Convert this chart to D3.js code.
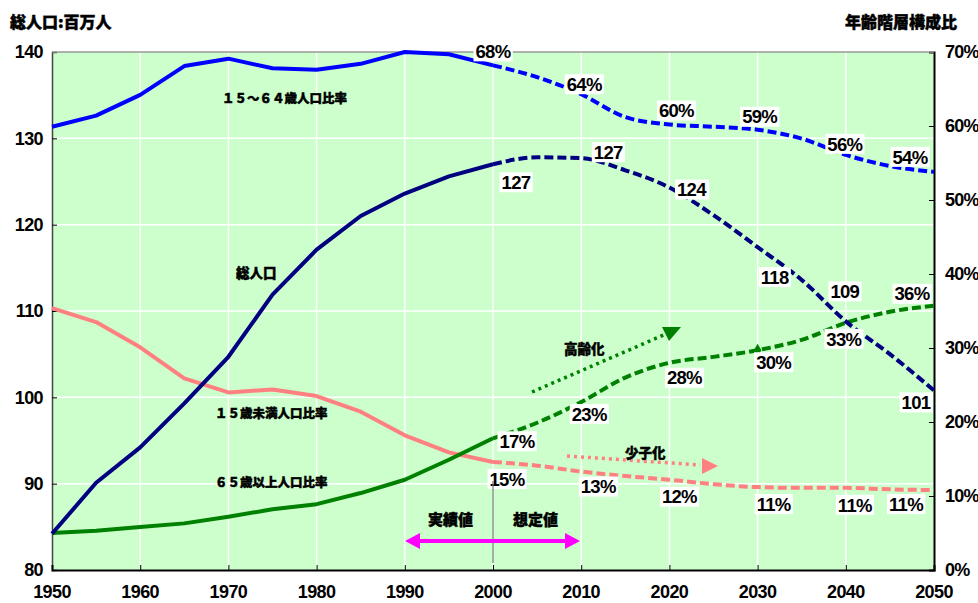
<!DOCTYPE html>
<html><head><meta charset="utf-8">
<script src="https://cdn.jsdelivr.net/npm/d3@7"></script>
<style>
body{margin:0;background:#fff;}
svg{display:block;}
.num{font-family:"Liberation Sans",Arial,sans-serif;font-weight:bold;}
.jp{font-family:"Noto Sans CJK JP",sans-serif;font-weight:900;stroke:#000;stroke-width:0.45px;}
</style></head>
<body><svg id="c" width="978" height="603"></svg>
<script>
// ---------------- DATA ----------------
const years = [1950,1955,1960,1965,1970,1975,1980,1985,1990,1995,2000,2005,2010,2015,2020,2025,2030,2035,2040,2045,2050];
const totalPop = [84.2,90.1,94.2,99.3,104.7,111.9,117.1,121.0,123.6,125.6,127.0,127.8,127.7,126.3,124.3,121.1,117.4,113.6,108.8,105.0,100.8];
const ratio15to64 = [59.9,61.4,64.2,68.1,69.1,67.8,67.6,68.4,70.0,69.7,68.2,66.6,64.3,61.2,60.2,59.9,59.5,58.3,56.1,54.6,53.8];
const ratioUnder15 = [35.4,33.5,30.1,25.9,24.0,24.4,23.5,21.4,18.2,15.9,14.6,14.1,13.3,12.7,12.2,11.6,11.2,11.1,11.1,10.9,10.8];
const ratio65over = [5.0,5.3,5.8,6.3,7.2,8.2,8.9,10.4,12.2,14.9,17.8,19.9,22.7,26.0,28.0,28.8,29.7,31.1,33.4,34.9,35.7];
const splitYear = 2000; // actual (solid) up to here, projection (dashed) after
const leftTicks = [80,90,100,110,120,130,140];
const rightTicks = [0,10,20,30,40,50,60,70];
const xTicks = [1950,1960,1970,1980,1990,2000,2010,2020,2030,2040,2050];
const labelYears = [2000,2010,2020,2030,2040,2050];
const popLabels = ["127","127","124","118","109","101"];
const pct15to64Labels = ["68%","64%","60%","59%","56%","54%"];
const pct65Labels = ["17%","23%","28%","30%","33%","36%"];
const pctUnder15Labels = ["15%","13%","12%","11%","11%","11%"];
const titleLeft = "総人口:百万人";
const titleRight = "年齢階層構成比";
const seriesNames = ["１５～６４歳人口比率","総人口","１５歳未満人口比率","６５歳以上人口比率"];
const notes = {aging:"高齢化", fewerKids:"少子化", actual:"実績値", projected:"想定値"};

// ---------------- LAYOUT ----------------
const svg = d3.select("#c");
const L=52, R=934, T=52, B=570;
const x = d3.scaleLinear().domain([1950,2050]).range([L,R]);
const yL = d3.scaleLinear().domain([80,140]).range([B,T]);
const yR = d3.scaleLinear().domain([0,70]).range([B,T]);

svg.append("rect").attr("x",L).attr("y",T).attr("width",R-L).attr("height",B-T).attr("fill","#CCFFCC");

// grid
svg.append("g").selectAll("line").data(xTicks.slice(1,-1)).join("line")
  .attr("x1",d=>x(d)).attr("x2",d=>x(d)).attr("y1",T).attr("y2",B)
  .attr("stroke","#fff").attr("stroke-width",1.5);
svg.append("g").selectAll("line").data(leftTicks.slice(1,-1)).join("line")
  .attr("x1",L).attr("x2",R).attr("y1",d=>yL(d)).attr("y2",d=>yL(d))
  .attr("stroke","#fff").attr("stroke-width",1.5);

// axes
const axL = svg.append("g").attr("transform",`translate(${L},0)`)
  .call(d3.axisRight(yL).tickValues(leftTicks).tickSize(5).tickFormat(""));
axL.select(".domain").attr("stroke","#444").attr("stroke-width",1.5);
const axR = svg.append("g").attr("transform",`translate(${R},0)`)
  .call(d3.axisLeft(yR).tickValues(rightTicks).tickSize(5).tickFormat(""));
axR.select(".domain").attr("stroke","#000").attr("stroke-width",2);
const axB = svg.append("g").attr("transform",`translate(0,${B})`)
  .call(d3.axisTop(x).tickValues(xTicks).tickSize(5).tickFormat(""));
axB.select(".domain").attr("stroke","#000").attr("stroke-width",2);
svg.append("line").attr("x1",L).attr("x2",R).attr("y1",T).attr("y2",T).attr("stroke","#999").attr("stroke-width",1.5);

// tick labels
svg.append("g").selectAll("text").data(leftTicks).join("text").attr("class","num")
  .attr("x",43).attr("y",d=>yL(d)).attr("dy","0.36em").attr("text-anchor","end")
  .attr("font-size",18).attr("letter-spacing",-0.6).text(d=>d);
svg.append("g").selectAll("text").data(rightTicks).join("text").attr("class","num")
  .attr("x",945).attr("y",d=>yR(d)).attr("dy","0.36em").attr("text-anchor","start")
  .attr("font-size",18).attr("letter-spacing",-0.8).text(d=>d+"%");
svg.append("g").selectAll("text").data(xTicks).join("text").attr("class","num")
  .attr("x",d=>x(d)).attr("y",598).attr("text-anchor","middle")
  .attr("font-size",18).attr("letter-spacing",-0.6).text(d=>d);

// titles
svg.append("text").attr("class","jp").attr("x",10).attr("y",28).attr("font-size",16).text(titleLeft);
svg.append("text").attr("class","jp").attr("x",957).attr("y",28).attr("text-anchor","end").attr("font-size",16).text(titleRight);

// ---------------- LINES ----------------
function drawSeries(vals, yScale, color){
  const pts = years.map((yr,i)=>[yr,vals[i]]);
  const line = d3.line().x(d=>x(d[0])).y(d=>yScale(d[1]));
  svg.append("path").datum(pts.filter(d=>d[0]<=splitYear)).attr("d",line.curve(d3.curveLinear))
    .attr("fill","none").attr("stroke",color).attr("stroke-width",4).attr("stroke-linejoin","round");
  svg.append("path").datum(pts.filter(d=>d[0]>=splitYear)).attr("d",line.curve(d3.curveMonotoneX))
    .attr("fill","none").attr("stroke",color).attr("stroke-width",4).attr("stroke-dasharray","9,4");
}
drawSeries(ratioUnder15, yR, "#FF8080");
drawSeries(ratio65over, yR, "#008000");
drawSeries(ratio15to64, yR, "#0000FF");
drawSeries(totalPop, yL, "#000080");

// marker on 65+ series at 2030
const i2030 = years.indexOf(2030);
svg.append("path").attr("d",d3.symbol(d3.symbolDiamond,50)())
  .attr("transform",`translate(${x(2030)},${yR(ratio65over[i2030])})`).attr("fill","#008000");

// ---------------- DATA LABELS ----------------
function drawLabels(vals, yScale, texts, offsets){
  labelYears.forEach((yr,k)=>{
    const i = years.indexOf(yr);
    const cx = x(yr)+offsets[k][0], cy = yScale(vals[i])+offsets[k][1];
    const g = svg.append("g");
    const t = g.append("text").attr("class","num").attr("x",cx).attr("y",cy).attr("dy","0.36em")
      .attr("text-anchor","middle").attr("font-size",18.5).attr("letter-spacing",-0.7).text(texts[k]);
    const bb = t.node().getBBox();
    g.insert("rect","text").attr("x",bb.x-2).attr("y",cy-10).attr("width",bb.width+4).attr("height",20).attr("fill","#fff");
  });
}
drawLabels(ratio15to64, yR, pct15to64Labels, [[0,-14],[3,-10],[7,-14],[2,-13],[-1,-11],[-24,-15]]);
drawLabels(totalPop, yL, popLabels, [[23,18],[27,-6],[22,2],[17,30],[-1,-30],[-18,12]]);
drawLabels(ratio65over, yR, pct65Labels, [[24,3],[8,12],[15,15],[16,12],[-2,16],[-22,-12]]);
drawLabels(ratioUnder15, yR, pctUnder15Labels, [[14,17],[17,15],[10,17],[16,17],[9,17],[-28,14]]);

// ---------------- SERIES NAMES ----------------
const nameFont = 12.5;
svg.append("text").attr("class","jp").attr("x",222).attr("y",98).attr("dy","0.36em").attr("font-size",nameFont).text(seriesNames[0]);
svg.append("text").attr("class","jp").attr("x",236).attr("y",273).attr("dy","0.36em").attr("font-size",13.5).text(seriesNames[1]);
svg.append("text").attr("class","jp").attr("x",215).attr("y",413).attr("dy","0.36em").attr("font-size",nameFont).text(seriesNames[2]);
svg.append("text").attr("class","jp").attr("x",215).attr("y",482).attr("dy","0.36em").attr("font-size",nameFont).text(seriesNames[3]);

// ---------------- ANNOTATIONS ----------------
// aging arrow (green dotted)
svg.append("line").attr("x1",532).attr("y1",392).attr("x2",666).attr("y2",334)
  .attr("stroke","#008000").attr("stroke-width",3.5).attr("stroke-dasharray","3,4");
svg.append("path").attr("d","M662,327 L681,327 L669,341 Z").attr("fill","#008000");
svg.append("text").attr("class","jp").attr("x",564).attr("y",349).attr("dy","0.36em").attr("font-size",13.5).text(notes.aging);

// fewer-children arrow (pink dotted)
svg.append("line").attr("x1",567).attr("y1",456).attr("x2",700).attr("y2",465)
  .attr("stroke","#FF8080").attr("stroke-width",3.5).attr("stroke-dasharray","3,4");
svg.append("path").attr("d","M702,458 L718,466 L702,474 Z").attr("fill","#FF8080");
svg.append("text").attr("class","jp").attr("x",625).attr("y",453).attr("dy","0.36em").attr("font-size",13.5).text(notes.fewerKids);

// actual / projected divider
svg.append("line").attr("x1",x(splitYear)).attr("x2",x(splitYear)).attr("y1",481).attr("y2",563)
  .attr("stroke","#777").attr("stroke-width",1.2);
svg.append("line").attr("x1",418).attr("x2",567).attr("y1",541).attr("y2",541)
  .attr("stroke","#FF00FF").attr("stroke-width",4);
svg.append("path").attr("d","M405,541 L420,533 L420,549 Z").attr("fill","#FF00FF");
svg.append("path").attr("d","M580,541 L565,533 L565,549 Z").attr("fill","#FF00FF");
svg.append("text").attr("class","jp").attr("x",428).attr("y",520).attr("dy","0.36em").attr("font-size",15).text(notes.actual);
svg.append("text").attr("class","jp").attr("x",513).attr("y",520).attr("dy","0.36em").attr("font-size",15).text(notes.projected);
</script></body></html>
